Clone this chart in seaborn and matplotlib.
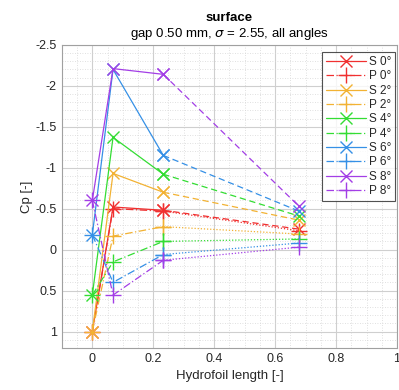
import numpy as np
import pandas as pd
import matplotlib
matplotlib.use("Agg")
import matplotlib.pyplot as plt
from matplotlib.lines import Line2D
from matplotlib.ticker import MultipleLocator
import seaborn as sns

# ---- data ----
x_pos = [0.0, 0.068, 0.233, 0.678]
angles = ["0°", "2°", "4°", "6°", "8°"]
colors = ["#f03030", "#f2b233", "#33dd33", "#3590e6", "#a33ee6"]

S_0 = [1.00, -0.52, -0.48, -0.25]
P_0 = [1.00, -0.50, -0.47, -0.23]
S_2 = [1.00, -0.93, -0.70, -0.36]
P_2 = [1.00, -0.165, -0.28, -0.19]
S_4 = [0.555, -1.37, -0.92, -0.41]
P_4 = [0.555, 0.15, -0.10, -0.13]
S_6 = [-0.18, -2.20, -1.15, -0.47]
P_6 = [-0.18, 0.40, 0.06, -0.08]
S_8 = [-0.60, -2.21, -2.14, -0.53]
P_8 = [-0.60, 0.555, 0.13, -0.03]

S_vals = [S_0, S_2, S_4, S_6, S_8]
P_vals = [P_0, P_2, P_4, P_6, P_8]

x_ticks = [0, 0.2, 0.4, 0.6, 0.8, 1]
x_ticklabels = ["0", "0.2", "0.4", "0.6", "0.8", "1"]
y_ticks = [-2.5, -2, -1.5, -1, -0.5, 0, 0.5, 1]
y_ticklabels = ["-2.5", "-2", "-1.5", "-1", "-0.5", "0", "0.5", "1"]

title = "surface"
subtitle = r"gap 0.50 mm, $\sigma$ = 2.55, all angles"

# ---- plot ----
sns.set_style("white")
plt.rcParams["font.family"] = ["Liberation Sans", "DejaVu Sans"]
plt.rcParams["axes.unicode_minus"] = False

fig = plt.figure(figsize=(3.99, 3.90), dpi=100)
ax = fig.add_axes([0.155, 0.108, 0.84, 0.777])

lw = 0.9
ms = 8
DASHDOT = (0, (6, 2, 1, 2))
handles = []
for ang, col, sv, pv in zip(angles, colors, S_vals, P_vals):
    common = dict(ax=ax, color=col, lw=lw, sort=False, markeredgecolor=col,
                  markeredgewidth=1.0)
    # suction side: solid first part, dashed last segment
    d1 = pd.DataFrame({"x": x_pos[:3], "y": sv[:3]})
    d2 = pd.DataFrame({"x": x_pos[2:], "y": sv[2:]})
    sns.lineplot(data=d1, x="x", y="y", ls="-", marker="x", markersize=ms, **common)
    sns.lineplot(data=d2, x="x", y="y", ls=(0, (5, 3)), marker="x", markersize=ms, **common)
    # pressure side: dash-dot first part, dotted last segment
    d3 = pd.DataFrame({"x": x_pos[:3], "y": pv[:3]})
    d4 = pd.DataFrame({"x": x_pos[2:], "y": pv[2:]})
    sns.lineplot(data=d3, x="x", y="y", ls=DASHDOT, marker="+", markersize=ms + 3, **common)
    sns.lineplot(data=d4, x="x", y="y", ls=(0, (1, 1.5)), marker="+", markersize=ms + 3, **common)
    handles.append(Line2D([], [], color=col, lw=lw, ls="-", marker="x",
                          markersize=ms, label=f"S {ang}"))
    handles.append(Line2D([], [], color=col, lw=lw, ls=DASHDOT, marker="+",
                          markersize=ms + 3, label=f"P {ang}"))

ax.set_xlim(-0.1, 1.0)
ax.set_ylim(1.2, -2.5)
ax.set_xticks(x_ticks)
ax.set_xticklabels(x_ticklabels)
ax.set_yticks(y_ticks)
ax.set_yticklabels(y_ticklabels)
ax.xaxis.set_minor_locator(MultipleLocator(0.05))
ax.yaxis.set_minor_locator(MultipleLocator(0.1))
ax.grid(True, which="major", color="#cfcfcf", lw=0.8, ls="-")
ax.grid(True, which="minor", color="#d6d6d6", lw=0.6, ls=(0, (1, 2)))
ax.set_axisbelow(True)
ax.tick_params(axis="both", which="major", labelsize=9, length=3, direction="in",
               colors="#262626", labelcolor="#262626")
ax.tick_params(axis="both", which="minor", length=0)
for sp in ax.spines.values():
    sp.set_color("#a0a0a0")
    sp.set_linewidth(0.8)

ax.set_xlabel("Hydrofoil length [-]", fontsize=9.5, color="#262626")
ax.set_ylabel("Cp [-]", fontsize=9.5, color="#262626", labelpad=2)

fig.text(0.575, 0.955, title, ha="center", va="center", fontsize=9.5,
         fontweight="bold", color="#000000")
fig.text(0.575, 0.912, subtitle, ha="center", va="center", fontsize=9.5,
         color="#000000")

leg = ax.legend(handles=handles, loc="upper right", bbox_to_anchor=(0.995, 0.975),
                fontsize=8.5, frameon=True,
                fancybox=False, edgecolor="#262626", handlelength=3.4,
                labelspacing=0.2, borderpad=0.3, handletextpad=0.3,
                borderaxespad=0.0)
leg.get_frame().set_linewidth(0.8)

fig.savefig("out.png", dpi=100)
